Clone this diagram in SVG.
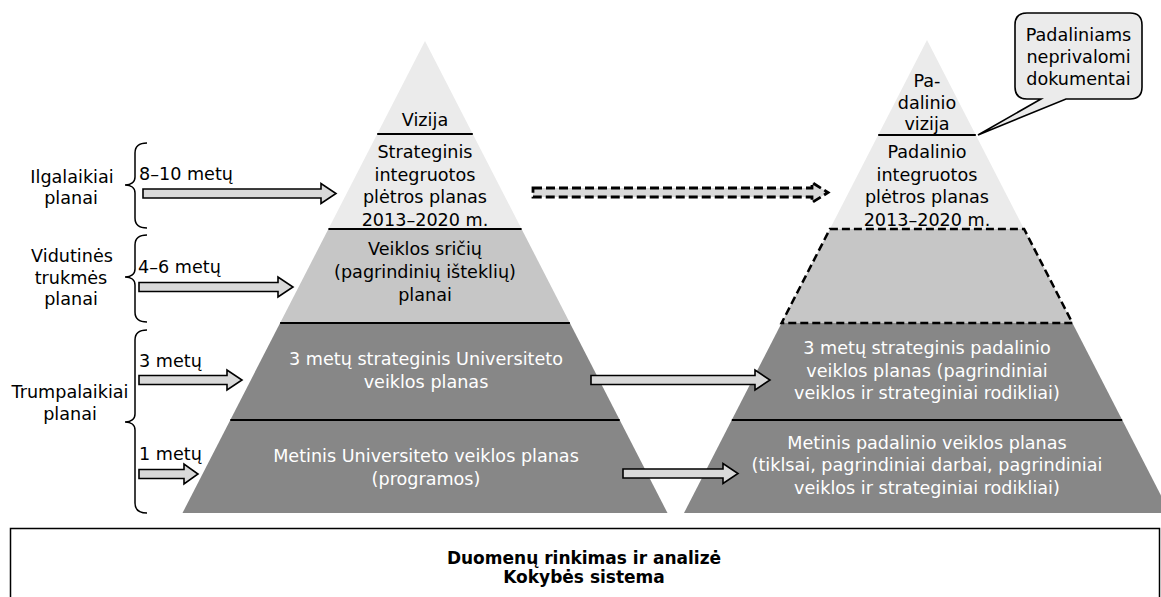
<svg xmlns="http://www.w3.org/2000/svg" width="1161" height="597" viewBox="0 0 1161 597">
<style>
text{font-family:"DejaVu Sans","Liberation Sans",sans-serif;font-size:17.6px;fill:#000}
.c{text-anchor:middle}
.w{fill:#fff}
.b{font-weight:bold;font-size:17px}
.light{fill:#ebebeb}
.mid{fill:#c6c6c6}
.dark{fill:#878787}
.sep{stroke:#000;stroke-width:2;fill:none}
.dash{stroke:#000;stroke-width:2.5;fill:none;stroke-dasharray:8 4}
.arr{fill:#d9d9d9;stroke:#000;stroke-width:1.6;stroke-linejoin:miter}
.arrd{fill:#d9d9d9;stroke:#000;stroke-width:2.8;stroke-dasharray:9 4}
.brace{fill:none;stroke:#000;stroke-width:1.5}
</style>
<rect width="1161" height="597" fill="#fff"/>

<g id="left-pyramid">
  <polygon class="light" points="425,41 521.6,229 328.4,229"/>
  <polygon class="mid" points="328.4,229 521.6,229 569.9,323 280.1,323"/>
  <polygon class="dark" points="280.1,323 569.9,323 667.5,513 182.5,513"/>
  <line class="sep" x1="377.2" y1="134" x2="472.8" y2="134"/>
  <line class="sep" x1="328.4" y1="229" x2="521.6" y2="229"/>
  <line class="sep" x1="280.1" y1="323" x2="569.9" y2="323"/>
  <line class="sep" x1="230.3" y1="420" x2="619.7" y2="420"/>
</g>
<g id="node-vizija"><text class="c" x="425" y="126">Vizija</text></g>
<g id="node-strateginis">
  <text class="c" x="425" y="158">Strateginis</text>
  <text class="c" x="425" y="180.5">integruotos</text>
  <text class="c" x="425" y="203">plėtros planas</text>
  <text class="c" x="425" y="225.5">2013–2020 m.</text>
</g>
<g id="node-veiklos">
  <text class="c" x="425" y="255">Veiklos sričių</text>
  <text class="c" x="425" y="278">(pagrindinių išteklių)</text>
  <text class="c" x="425" y="301">planai</text>
</g>
<g id="node-3metu">
  <text class="c w" x="426" y="365">3 metų strateginis Universiteto</text>
  <text class="c w" x="426" y="388">veiklos planas</text>
</g>
<g id="node-metinis">
  <text class="c w" x="426" y="462">Metinis Universiteto veiklos planas</text>
  <text class="c w" x="426" y="485">(programos)</text>
</g>

<g id="right-pyramid">
  <polygon class="light" points="927,40 1024.1,229 829.9,229"/>
  <polygon class="mid" points="829.9,229 1024.1,229 1072.4,323 781.6,323"/>
  <polygon class="dark" points="781.6,323 1072.4,323 1170,513 684,513"/>
  <line class="sep" x1="878.2" y1="135" x2="975.8" y2="135"/>
  <polygon class="dash" points="829.9,229 1024.1,229 1072.4,323 781.6,323"/>
  <line class="sep" x1="731.8" y1="420" x2="1122.2" y2="420"/>
</g>
<g id="node-padalinio-vizija">
  <text class="c" x="927" y="87">Pa-</text>
  <text class="c" x="927" y="108.5">dalinio</text>
  <text class="c" x="927" y="130">vizija</text>
</g>
<g id="node-padalinio-planas">
  <text class="c" x="927" y="158">Padalinio</text>
  <text class="c" x="927" y="180.5">integruotos</text>
  <text class="c" x="927" y="203">plėtros planas</text>
  <text class="c" x="927" y="225.5">2013–2020 m.</text>
</g>
<g id="node-padalinio-3metu">
  <text class="c w" x="927" y="354">3 metų strateginis padalinio</text>
  <text class="c w" x="927" y="376.5">veiklos planas (pagrindiniai</text>
  <text class="c w" x="927" y="399">veiklos ir strateginiai rodikliai)</text>
</g>
<g id="node-padalinio-metinis">
  <text class="c w" x="927" y="448.5">Metinis padalinio veiklos planas</text>
  <text class="c w" x="927" y="471">(tiklsai, pagrindiniai darbai, pagrindiniai</text>
  <text class="c w" x="927" y="493.5">veiklos ir strateginiai rodikliai)</text>
</g>

<g id="callout">
  <path d="M1027,13 H1130 Q1142,13 1142,25 V87 Q1142,99 1130,99 H1066 L978,135 L1041,99 H1027 Q1015,99 1015,87 V25 Q1015,13 1027,13 Z" fill="#ebebeb" stroke="#000" stroke-width="1.6"/>
  <text class="c" x="1078.5" y="41">Padaliniams</text>
  <text class="c" x="1078.5" y="63">neprivalomi</text>
  <text class="c" x="1078.5" y="85">dokumentai</text>
</g>

<g id="left-labels">
  <text class="c" x="72" y="183">Ilgalaikiai</text>
  <text class="c" x="71" y="204">planai</text>
  <text class="c" x="72" y="262">Vidutinės</text>
  <text class="c" x="71" y="283.5">trukmės</text>
  <text class="c" x="71" y="305">planai</text>
  <text class="c" x="70" y="398">Trumpalaikiai</text>
  <text class="c" x="70" y="419.5">planai</text>
  <text x="139" y="180">8–10 metų</text>
  <text x="138" y="273">4–6 metų</text>
  <text x="139" y="367">3 metų</text>
  <text x="139" y="460">1 metų</text>
</g>

<g id="connectors">
  <path class="brace" d="M147,143 C139,143 135,146 135,153 L135,177 C135,182 131,185 125,185 C131,185 135,188 135,193 L135,218 C135,225 139,228 147,228"/>
  <path class="brace" d="M147,235 C139,235 135,238 135,245 L135,269 C135,274 131,277 125,277 C131,277 135,280 135,285 L135,312 C135,319 139,322 147,322"/>
  <path class="brace" d="M147,330 C139,330 135,333 135,340 L135,414 C135,419 131,422 125,422 C131,422 135,425 135,430 L135,503 C135,510 139,513 147,513"/>
  <polygon class="arr" points="143,189 321,189 321,183.5 336,193.5 321,203.5 321,198 143,198"/>
  <polygon class="arr" points="139,282.5 278,282.5 278,277 293,287 278,297 278,291.5 139,291.5"/>
  <polygon class="arr" points="139,375.5 227,375.5 227,370 242,380 227,390 227,384.5 139,384.5"/>
  <polygon class="arr" points="139,469.5 184,469.5 184,464 198,474 184,484 184,478.5 139,478.5"/>
  <polygon class="arr" points="591,375.5 755,375.5 755,370 770,380 755,390 755,384.5 591,384.5"/>
  <polygon class="arr" points="623,469 723,469 723,463.5 738,473.5 723,483.5 723,478 623,478"/>
  <polygon class="arrd" points="533,188 812,188 812,182.5 828,192.5 812,202.5 812,197 533,197"/>
</g>

<g id="node-kokybe">
  <rect x="10.5" y="528.5" width="1149" height="90" fill="#fff" stroke="#000" stroke-width="1.5"/>
  <text class="c b" x="584" y="564">Duomenų rinkimas ir analizė</text>
  <text class="c b" x="584" y="583">Kokybės sistema</text>
</g>
</svg>
